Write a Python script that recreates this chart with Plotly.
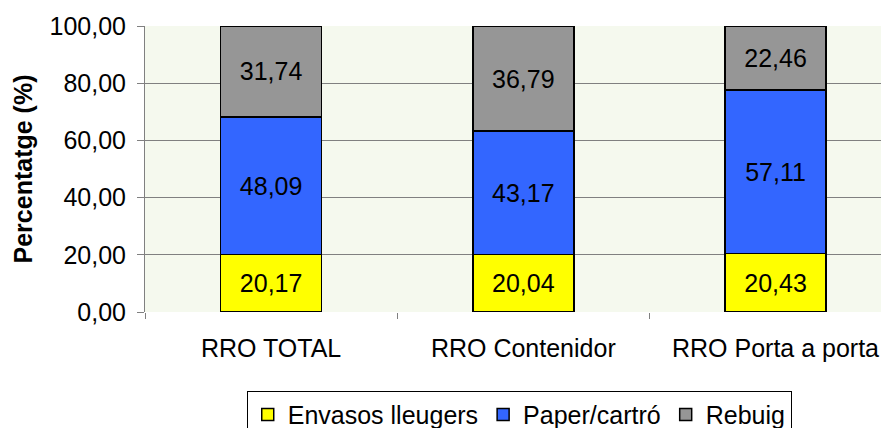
import plotly.graph_objects as go

categories = ["RRO TOTAL", "RRO Contenidor", "RRO Porta a porta"]
envasos = [20.17, 20.04, 20.43]
paper = [48.09, 43.17, 57.11]
rebuig = [31.74, 36.79, 22.46]

series = [
    ("Envasos lleugers", envasos, "#FFFF00"),
    ("Paper/cartró", paper, "#3366FF"),
    ("Rebuig", rebuig, "#969696"),
]

fig = go.Figure()
for name, vals, color in series:
    fig.add_trace(go.Bar(
        x=categories, y=vals, name=name,
        marker=dict(color=color, line=dict(color="black", width=1.5)),
        width=0.4,
        text=vals, texttemplate="%{y:.2f}", textposition="inside",
        insidetextanchor="middle",
        textfont=dict(color="black", size=25),
        constraintext="none",
    ))

# page body adds an 8px offset, so the figure is sized 881x420
fig.update_layout(
    barmode="stack",
    separators=",.",
    width=881, height=420,
    margin=dict(l=137, r=0, t=18, b=116, autoexpand=False),
    paper_bgcolor="white",
    plot_bgcolor="#F5F9EE",
    font=dict(family="Liberation Sans, Arial", size=25, color="black"),
    showlegend=True,
    legend=dict(
        orientation="h", x=0.503, xanchor="center", y=-0.275, yanchor="top",
        bordercolor="black", borderwidth=1, font=dict(size=25),
        traceorder="normal", itemwidth=30,
    ),
    xaxis=dict(
        range=[-0.5, 2.45], showgrid=False, showline=False, automargin=False,
        ticks="outside", tickson="boundaries", ticklen=6, tickcolor="#808080",
        ticklabelstandoff=19,
    ),
    yaxis=dict(
        range=[0, 100], dtick=20, tickformat=".2f", automargin=False,
        showgrid=True, gridcolor="#808080", gridwidth=1,
        showline=True, linecolor="#808080", linewidth=1,
        ticks="outside", ticklen=7, tickcolor="#808080",
        ticklabelstandoff=6,
        title=dict(text="<b>Percentatge (%)</b>", font=dict(size=25), standoff=9),
        zeroline=False,
    ),
)

fig.write_html("out.html")
